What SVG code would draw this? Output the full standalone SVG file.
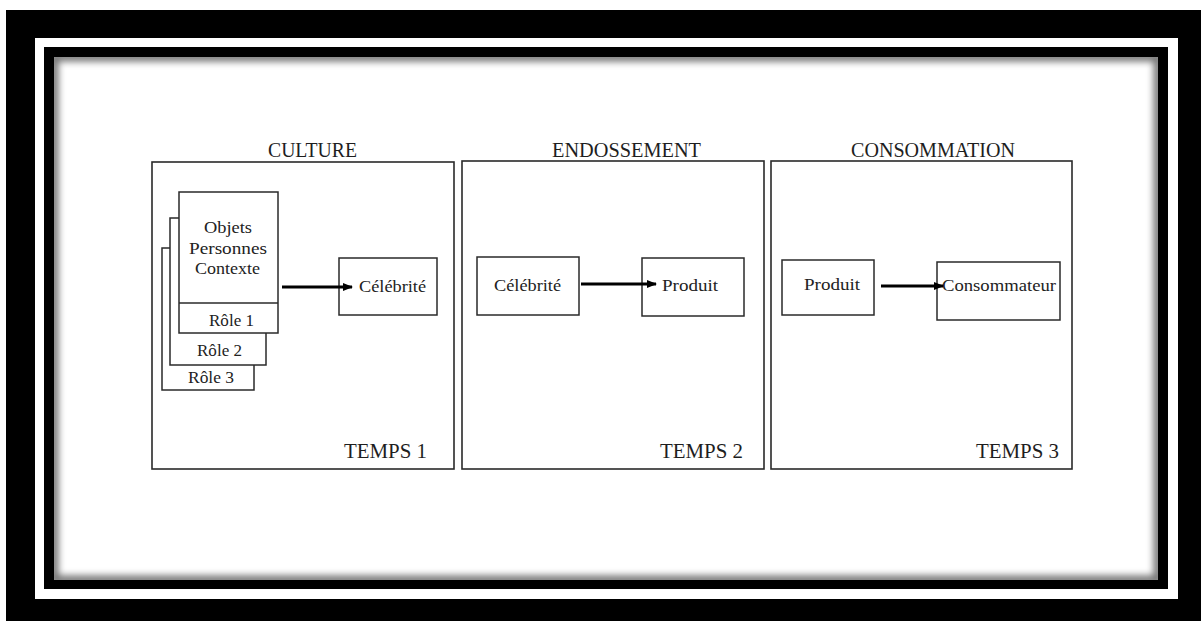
<svg xmlns="http://www.w3.org/2000/svg" width="1201" height="621" viewBox="0 0 1201 621">
  <style>
    .box { fill: #fff; stroke: #2a2a2a; stroke-width: 1.5; }
    .panel { fill: #fff; stroke: #2a2a2a; stroke-width: 1.6; }
    .title { font-family: "Liberation Serif", serif; font-size: 20px; fill: #1e1e1e; }
    .lbl { font-family: "Liberation Serif", serif; font-size: 16px; fill: #222; }
    .temps { font-family: "Liberation Serif", serif; font-size: 21px; fill: #1e1e1e; }
    .arrow { stroke: #000; stroke-width: 3; fill: none; marker-end: url(#head); }
  </style>
  <defs>
    <marker id="head" markerWidth="10" markerHeight="8" refX="9" refY="4" orient="auto" markerUnits="userSpaceOnUse">
      <path d="M0,0 L10,4 L0,8 Z" fill="#000"/>
    </marker>
    <clipPath id="sheet">
      <rect x="54" y="57" width="1104" height="523"/>
    </clipPath>
    <filter id="soft" x="-5%" y="-5%" width="110%" height="110%">
      <feGaussianBlur stdDeviation="3.5"/>
    </filter>
  </defs>

  <!-- frame -->
  <rect x="0" y="0" width="1201" height="621" fill="#fff"/>
  <rect x="6" y="10" width="1195" height="611" fill="#000"/>
  <rect x="35" y="38" width="1143" height="561" fill="#fff"/>
  <rect x="44" y="47" width="1124" height="542" fill="#000"/>
  <rect x="54" y="57" width="1104" height="523" fill="#fff"/>
  <g clip-path="url(#sheet)">
    <rect x="54" y="57" width="1104" height="523" fill="none" stroke="#000" stroke-width="9" opacity="0.55" filter="url(#soft)"/>
  </g>

  <!-- panels -->
  <g id="panel-culture">
    <rect class="panel" x="152" y="162" width="302" height="307"/>
    <text class="title" x="268" y="157" textLength="89" lengthAdjust="spacingAndGlyphs">CULTURE</text>
    <text class="temps" x="344" y="458" textLength="83" lengthAdjust="spacingAndGlyphs">TEMPS 1</text>
  </g>
  <g id="panel-endossement">
    <rect class="panel" x="462" y="161" width="302" height="308"/>
    <text class="title" x="552" y="157" textLength="149" lengthAdjust="spacingAndGlyphs">ENDOSSEMENT</text>
    <text class="temps" x="660" y="458" textLength="83" lengthAdjust="spacingAndGlyphs">TEMPS 2</text>
  </g>
  <g id="panel-consommation">
    <rect class="panel" x="771" y="161" width="301" height="308"/>
    <text class="title" x="851" y="157" textLength="164" lengthAdjust="spacingAndGlyphs">CONSOMMATION</text>
    <text class="temps" x="976" y="458" textLength="83" lengthAdjust="spacingAndGlyphs">TEMPS 3</text>
  </g>

  <!-- stacked role cards -->
  <g id="role3">
    <rect class="box" x="162" y="248" width="92" height="142"/>
    <text class="lbl" x="188" y="383" textLength="46" lengthAdjust="spacingAndGlyphs">Rôle 3</text>
  </g>
  <g id="role2">
    <rect class="box" x="170" y="218" width="96" height="147"/>
    <text class="lbl" x="197" y="356" textLength="45" lengthAdjust="spacingAndGlyphs">Rôle 2</text>
  </g>
  <g id="role1">
    <rect class="box" x="179" y="192" width="99" height="141"/>
    <line x1="179" y1="303" x2="278" y2="303" stroke="#2a2a2a" stroke-width="1.5"/>
    <text class="lbl" x="204" y="233" textLength="48" lengthAdjust="spacingAndGlyphs">Objets</text>
    <text class="lbl" x="189" y="254" textLength="78" lengthAdjust="spacingAndGlyphs">Personnes</text>
    <text class="lbl" x="195" y="274" textLength="65" lengthAdjust="spacingAndGlyphs">Contexte</text>
    <text class="lbl" x="209" y="326" textLength="45" lengthAdjust="spacingAndGlyphs">Rôle 1</text>
  </g>

  <g id="celebrite-1">
    <rect class="box" x="339" y="258" width="98" height="57"/>
    <text class="lbl" x="359" y="292" textLength="67" lengthAdjust="spacingAndGlyphs">Célébrité</text>
  </g>
  <g id="celebrite-2">
    <rect class="box" x="477" y="257" width="102" height="58"/>
    <text class="lbl" x="494" y="291" textLength="67" lengthAdjust="spacingAndGlyphs">Célébrité</text>
  </g>
  <g id="produit-2">
    <rect class="box" x="642" y="258" width="102" height="58"/>
    <text class="lbl" x="662" y="291" textLength="56" lengthAdjust="spacingAndGlyphs">Produit</text>
  </g>
  <g id="produit-3">
    <rect class="box" x="782" y="260" width="92" height="55"/>
    <text class="lbl" x="804" y="290" textLength="56" lengthAdjust="spacingAndGlyphs">Produit</text>
  </g>
  <g id="consommateur">
    <rect class="box" x="937" y="262" width="123" height="58"/>
    <text class="lbl" x="942" y="291" textLength="114" lengthAdjust="spacingAndGlyphs">Consommateur</text>
  </g>

  <!-- connectors -->
  <g id="connectors">
    <line class="arrow" x1="282" y1="287" x2="352" y2="287"/>
    <line class="arrow" x1="581" y1="284" x2="656" y2="284"/>
    <line class="arrow" x1="881" y1="286" x2="943" y2="286"/>
  </g>
</svg>
